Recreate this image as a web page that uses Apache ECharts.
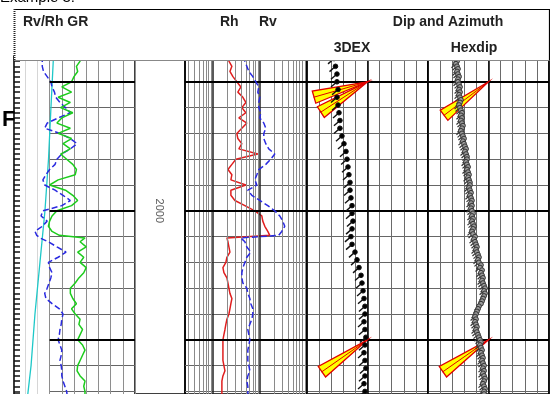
<!DOCTYPE html>
<html>
<head>
<meta charset="utf-8">
<script src="https://cdn.jsdelivr.net/npm/echarts@6/dist/echarts.min.js"></script>
<style>
html, body { margin: 0; padding: 0; background: #fff; }
#main { width: 550px; height: 394px; }
</style>
</head>
<body>
<div id="main"></div>
<script>
// depth samples (ft) shared by the log curves
var depth = [1940,1942,1944,1946,1948,1950,1952,1954,1956,1958,1960,1962,1964,1966,1968,1970,1972,1974,1976,1978,
    1980,1982,1984,1986,1988,1990,1992,1994,1996,1998,2000,2002,2004,2006,2008,2009.5,2010.5,
    2012,2014,2016,2018,2020,2022,2024,2026,2028,2030,2032,2034,2036,2038,2040,2042,2044,2046,2048,2050,
    2052,2054,2056,2058,2060,2062,2064,2066,2068,2070,2072];

// track 1 (0-10 scale)
var gr = [5.5,5.5,5.2,5.3,5.0,4.8,4.0,4.8,3.7,4.7,3.9,4.9,4.0,3.6,4.7,3.7,4.8,4.1,4.7,3.9,
    4.4,4.9,5.2,5.1,3.7,3.0,4.3,4.9,5.3,4.8,3.6,3.2,3.0,2.9,3.2,3.8,5.9,
    5.5,6.0,5.3,5.8,5.5,6.0,5.8,5.4,5.1,4.7,4.7,4.9,5.2,4.8,5.1,5.5,5.4,5.7,5.5,5.3,
    5.7,5.9,5.7,5.5,5.3,5.25,5.5,5.9,5.8,5.9,5.9];
var rvrh = [2.4,2.4,2.4,2.5,2.8,3.1,3.2,3.4,3.5,3.85,4.3,4.7,3.7,2.8,2.6,3.85,4.7,5.25,4.7,4.0,
    3.6,3.45,3.0,2.7,2.45,2.6,3.45,4.1,4.7,4.0,2.45,2.3,2.8,2.4,1.8,1.95,2.2,
    2.9,3.6,4.35,3.7,2.9,3.0,3.2,3.1,2.95,2.8,2.6,2.7,3.2,3.8,4.1,4.0,3.95,3.85,3.8,3.7,
    3.85,4.0,3.95,3.85,3.95,4.0,4.0,4.1,4.25,4.4,4.45];
var cyanDepth = [1940,1960,1980,2000,2020,2040,2060,2072];
var cyanVal = [3.32,3.11,2.91,2.62,2.21,1.80,1.48,1.19];

// track 2 (ohm.m, log)
var rh = [2.06,2.16,2.5,2.27,2.63,3.19,3.89,3.35,4.29,4.96,4.08,4.96,3.52,5.21,4.08,3.19,3.35,4.08,3.52,8.93,
    3.04,2.5,2.06,2.5,2.38,4.96,2.38,2.38,2.9,4.73,7.71,10.87,11.41,12.59,14.58,16.08,1.96,
    2.06,2.16,2.27,1.96,1.86,1.61,1.69,1.96,2.06,2.16,2.27,2.5,2.38,2.27,2.16,1.96,1.86,1.78,1.69,1.61,
    1.61,1.61,1.61,1.61,1.69,1.78,1.61,1.53,1.53,1.53,1.53];
var rv = [4.50,4.73,5.21,5.75,6.99,8.10,9.38,8.93,9.85,9.38,9.38,10.35,9.85,11.98,13.22,11.98,11.98,13.22,15.31,20.54,
    16.88,13.22,9.38,8.51,7.71,8.51,5.47,6.66,9.85,14.58,20.54,26.23,30.39,33.51,28.93,24.98,3.89,
    4.73,5.21,6.34,5.21,4.73,4.29,4.08,4.08,4.29,5.21,5.47,6.04,6.34,6.99,6.99,6.66,6.04,5.47,5.75,6.04,
    5.75,5.47,5.47,5.47,5.75,6.04,5.47,5.21,5.47,5.47,5.47];
var logMinor = [0.3,0.4,0.5,0.6,0.7,0.8,0.9,2,3,4,5,6,7,8,9,20,30,40,50,60,70,80,90];
var logMajor = [1,10];

// dip tracks (deg)
var dexDepth = [1941,1944,1947,1950,1953,1956,1959,1962,1965,1968,1971,1974,1977,1980,1983,1986,1989,1992,1995,1998,
    2001,2004,2007,2010,2013,2016,2019,2022,2025,2028,2031,2034,2037,2040,2043,2046,2049,2052,2055,2058,
    2061,2064,2067,2070];
var dexDip = [20.1,21.2,22.3,22.3,23.1,22.3,23.1,23.8,24.5,24.5,26.0,27.5,29.0,29.8,30.5,31.2,32.0,32.0,32.7,33.5,
    33.5,34.2,33.5,32.7,33.5,35.7,37.2,38.7,40.2,40.9,41.7,42.4,43.1,43.1,42.4,43.1,43.8,43.1,42.4,43.1,
    43.8,43.1,42.4,43.1];
var hexDepth = [1940,1941,1942,1943,1944,1945,1946,1947,1948,1949,1950,1951,1952,1953,1954,1955,1956,1957,1958,1959,
    1960,1961,1962,1963,1964,1965,1966,1967,1968,1969,1970,1971,1972,1973,1974,1975,1976,1977,1978,1979,
    1980,1981,1982,1983,1984,1985,1986,1987,1988,1989,1990,1991,1992,1993,1994,1995,1996,1997,1998,1999,
    2000,2001,2002,2003,2004,2005,2006,2007,2008,2009,2010,2011,2012,2013,2014,2015,2016,2017,2018,2019,
    2020,2021,2022,2023,2024,2025,2026,2027,2028,2029,2030,2031,2032,2033,2034,2035,2036,2037,2038,2039,
    2040,2041,2042,2043,2044,2045,2046,2047,2048,2049,2050,2051,2052,2053,2054,2055,2056,2057,2058,2059,
    2060,2061,2062,2063,2064,2065,2066,2067,2068,2069,2070,2071];
var hexDip = [21.6,22.3,21.6,20.8,21.6,22.3,21.6,22.3,23.1,22.3,
    22.3,23.1,23.8,23.1,23.8,23.1,23.8,24.5,23.8,23.1,
    23.8,24.5,25.3,24.5,25.3,24.5,25.3,26.0,25.3,24.5,
    25.3,26.0,26.8,26.0,26.8,27.5,28.3,27.5,28.3,29.0,
    29.0,28.3,29.0,29.8,29.0,29.8,30.5,29.8,30.5,31.2,
    31.2,30.5,31.2,32.0,31.2,32.0,32.7,32.0,32.7,32.0,
    32.7,33.5,32.7,33.5,32.7,33.5,34.2,33.5,32.7,33.5,
    35.0,34.2,35.0,35.7,36.4,35.7,36.4,37.2,37.9,37.2,
    37.9,39.4,38.7,40.2,39.4,40.2,40.9,40.2,40.9,41.7,
    42.4,41.7,42.4,41.7,40.9,40.2,39.4,37.9,37.2,36.4,
    35.7,35.0,35.7,35.0,35.7,36.4,35.7,36.4,37.2,37.9,
    38.7,39.4,38.7,39.4,40.2,39.4,40.2,40.9,40.2,40.9,
    41.7,40.9,41.7,40.9,41.7,42.4,41.7,40.9,41.7,42.4,
    41.7,41.7];
// dip, depth, azimuth angle of the fan
var dexFans = [[45, 1950, 16], [45, 1950, 33], [45, 2050, 35]];
var hexFans = [[45, 1950, 37], [45, 2050, 35]];
var thickDepths = [1950, 2000, 2050];
var depthLabels = [2000];

var chart = echarts.init(document.getElementById('main'), null, { renderer: 'canvas' });

var TOP = 56, H = 338, DMIN = 1940, DMAX = 2071;
var FONT = '"Liberation Sans", Arial, sans-serif';

function pairs(xs, ys) {
    return xs.map(function (v, i) { return [v, ys[i]]; });
}

function depthAxis(gridIndex, opts) {
    var ax = {
        type: 'value', gridIndex: gridIndex, inverse: true, min: DMIN, max: DMAX, interval: 10,
        axisLine: { show: false }, axisTick: { show: false }, axisLabel: { show: false },
        splitLine: { show: false }
    };
    return Object.assign(ax, opts || {});
}

function valAxis(gridIndex, opts) {
    var ax = {
        type: 'value', gridIndex: gridIndex,
        axisLine: { show: false }, axisTick: { show: false }, axisLabel: { show: false },
        splitLine: { show: false }
    };
    return Object.assign(ax, opts || {});
}

function thickLines(xi, yi) {
    return {
        type: 'line', xAxisIndex: xi, yAxisIndex: yi, data: [], silent: true,
        markLine: {
            silent: true, symbol: ['none', 'none'], label: { show: false }, animation: false,
            lineStyle: { color: '#000', width: 2, type: 'solid' },
            data: thickDepths.map(function (d) { return { yAxis: d }; })
        }
    };
}

function tadpole(fill, stroke, r, tail, tailWidth) {
    return function (params, api) {
        var p = api.coord([api.value(0), api.value(1)]);
        return {
            type: 'group',
            children: [
                { type: 'line', shape: { x1: p[0], y1: p[1], x2: p[0] - tail * 0.75, y2: p[1] + tail * 0.66 },
                  style: { stroke: stroke, lineWidth: tailWidth } },
                { type: 'circle', shape: { cx: p[0], cy: p[1], r: r },
                  style: { fill: fill, stroke: stroke, lineWidth: 1 } }
            ]
        };
    };
}

function renderFan(params, api) {
    var p = api.coord([api.value(0), api.value(1)]);
    var a = api.value(2) * Math.PI / 180, h = 6.5 * Math.PI / 180, L = 56;
    function pt(t) { return [p[0] - Math.cos(t) * L, p[1] + Math.sin(t) * L]; }
    var c = pt(a);
    return {
        type: 'group',
        children: [
            { type: 'polygon', shape: { points: [p, pt(a - h), pt(a + h)] },
              style: { fill: '#ffff00', stroke: '#e00000', lineWidth: 1.3 } },
            { type: 'line', shape: { x1: p[0], y1: p[1], x2: c[0], y2: c[1] },
              style: { stroke: '#e00000', lineWidth: 1 } }
        ]
    };
}

var option = {
    animation: false,
    backgroundColor: '#fff',
    grid: [
        { left: 14, top: TOP, width: 6, height: H },                 // 0 hatch strip
        { left: 13, top: TOP, width: 122, height: H },               // 1 track 1 curves
        { left: 13, top: TOP, width: 48.8, height: H },              // 2 track 1 light lines
        { left: 49.6, top: TOP, width: 85.4, height: H },            // 3 track 1 grid
        { left: 135, top: TOP, width: 50, height: H, show: true, borderColor: '#000', borderWidth: 1.5 }, // 4 depth
        { left: 185, top: TOP, width: 122, height: H, show: true, borderColor: '#000', borderWidth: 1.5 }, // 5 Rh Rv
        { left: 307, top: TOP, width: 121, height: H, show: true, borderColor: '#000', borderWidth: 1.5 }, // 6 3DEX
        { left: 428, top: TOP, width: 121, height: H, show: true, borderColor: '#000', borderWidth: 1.5 }  // 7 Hexdip
    ],
    xAxis: [
        valAxis(0, { show: false, min: 0, max: 1 }),
        valAxis(1, { show: false, min: 0, max: 10 }),
        valAxis(2, { min: 0, max: 4, interval: 1, splitLine: { show: true, lineStyle: { color: '#d6d6d6', width: 1 } } }),
        valAxis(3, { min: 3, max: 10, interval: 1, splitLine: { show: true, lineStyle: { color: '#8e8e8e', width: 1 } } }),
        valAxis(4, { show: false, min: 0, max: 1 }),
        valAxis(5, { type: 'log', logBase: 10, show: false, min: 0.25, max: 100 }),
        valAxis(6, { min: 0, max: 90, interval: 9, splitLine: { show: true, lineStyle: { color: '#6a6a6a', width: 1 } } }),
        valAxis(6, { position: 'top', min: 0, max: 90, interval: 45, splitLine: { show: true, lineStyle: { color: '#000', width: 1.5 } } }),
        valAxis(7, { min: 0, max: 90, interval: 9, splitLine: { show: true, lineStyle: { color: '#6a6a6a', width: 1 } } }),
        valAxis(7, { position: 'top', min: 0, max: 90, interval: 45, splitLine: { show: true, lineStyle: { color: '#000', width: 1.5 } } })
    ],
    yAxis: [
        depthAxis(0, {
            interval: 2, position: 'left',
            axisLine: { show: true, lineStyle: { color: '#000', width: 1.5 } },
            axisTick: { show: true, inside: true, length: 6, lineStyle: { color: '#111', width: 1.5 } }
        }),
        depthAxis(1),
        depthAxis(2),
        depthAxis(3, { splitLine: { show: true, lineStyle: { color: '#666', width: 1 } } }),
        depthAxis(4),
        depthAxis(5, { splitLine: { show: true, lineStyle: { color: '#666', width: 1 } } }),
        depthAxis(6, { splitLine: { show: true, lineStyle: { color: '#666', width: 1 } } }),
        depthAxis(7, { splitLine: { show: true, lineStyle: { color: '#666', width: 1 } } })
    ],
    series: [
        thickLines(3, 3),
        {
            name: 'Rv/Rh trend', type: 'line', xAxisIndex: 1, yAxisIndex: 1, symbol: 'none',
            data: pairs(cyanVal, cyanDepth), lineStyle: { color: '#1ec8c8', width: 1.3 }, z: 3
        },
        {
            name: 'Rv/Rh', type: 'line', xAxisIndex: 1, yAxisIndex: 1, symbol: 'none',
            data: pairs(rvrh, depth), lineStyle: { color: '#2a2ae0', width: 1.5, type: [6, 3] }, z: 3
        },
        {
            name: 'GR', type: 'line', xAxisIndex: 1, yAxisIndex: 1, symbol: 'none',
            data: pairs(gr, depth), lineStyle: { color: '#1ccc1c', width: 1.5 }, z: 4
        },
        {
            name: 'depth', type: 'scatter', xAxisIndex: 4, yAxisIndex: 4, symbolSize: 1,
            itemStyle: { color: 'rgba(0,0,0,0)' },
            data: depthLabels.map(function (d) { return [0.48, d]; }),
            label: {
                show: true, position: 'inside', rotate: -90, color: '#333', fontSize: 11, fontFamily: FONT,
                formatter: function (p) { return String(p.value[1]); }
            }
        },
        {
            type: 'line', xAxisIndex: 5, yAxisIndex: 5, data: [], silent: true,
            markLine: {
                silent: true, symbol: ['none', 'none'], label: { show: false }, animation: false,
                data: logMinor.map(function (v) { return { xAxis: v, lineStyle: { color: '#8a8a8a', width: 1, type: 'solid' } }; })
                    .concat(logMajor.map(function (v) { return { xAxis: v, lineStyle: { color: '#222', width: 1.5, type: 'solid' } }; }))
                    .concat(thickDepths.map(function (d) { return { yAxis: d, lineStyle: { color: '#000', width: 2, type: 'solid' } }; }))
            }
        },
        {
            name: 'Rh', type: 'line', xAxisIndex: 5, yAxisIndex: 5, symbol: 'none',
            data: pairs(rh, depth), lineStyle: { color: '#e01e1e', width: 1.5 }, z: 4
        },
        {
            name: 'Rv', type: 'line', xAxisIndex: 5, yAxisIndex: 5, symbol: 'none',
            data: pairs(rv, depth), lineStyle: { color: '#2a2ae0', width: 1.5, type: [6, 3] }, z: 5
        },
        thickLines(6, 6),
        {
            name: '3DEX fan', type: 'custom', xAxisIndex: 6, yAxisIndex: 6, renderItem: renderFan,
            data: dexFans, z: 5
        },
        {
            name: '3DEX', type: 'custom', xAxisIndex: 6, yAxisIndex: 6, renderItem: tadpole('#000', '#111', 2.3, 8, 1.4),
            data: pairs(dexDip, dexDepth), z: 6
        },
        thickLines(8, 7),
        {
            name: 'Hexdip fan', type: 'custom', xAxisIndex: 8, yAxisIndex: 7, renderItem: renderFan,
            data: hexFans, z: 5
        },
        {
            name: 'Hexdip', type: 'custom', xAxisIndex: 8, yAxisIndex: 7, renderItem: tadpole('#9a9a9a', '#333', 2.4, 6, 1.2),
            data: pairs(hexDip, hexDepth), z: 6
        }
    ],
    graphic: [
        { type: 'text', x: 0, y: -10, z: 90, style: { text: 'Example 3:', font: '15px ' + FONT, fill: '#000' } },
        { type: 'text', x: 2, y: 120, z: 90, style: { text: 'F', font: 'bold 22px ' + FONT, fill: '#000', verticalAlign: 'middle' } },
        { type: 'rect', z: 100, shape: { x: 14, y: 9, width: 535.5, height: 51 }, style: { fill: '#fff' } },
        { type: 'line', z: 101, shape: { x1: 14, y1: 9.5, x2: 549.5, y2: 9.5 }, style: { stroke: '#000', lineWidth: 1.2 } },
        { type: 'line', z: 101, shape: { x1: 549.5, y1: 9, x2: 549.5, y2: 60 }, style: { stroke: '#000', lineWidth: 1.2 } },
        { type: 'line', z: 101, shape: { x1: 14, y1: 60.5, x2: 549.5, y2: 60.5 }, style: { stroke: '#888', lineWidth: 1 } },
        { type: 'line', z: 101, shape: { x1: 14.5, y1: 9, x2: 14.5, y2: 60 }, style: { stroke: '#222', lineWidth: 2, lineDash: [1, 1] } },
        { type: 'text', z: 102, x: 23, y: 22.5, style: { text: 'Rv/Rh GR', font: 'bold 14px ' + FONT, fill: '#222', verticalAlign: 'middle' } },
        { type: 'text', z: 102, x: 220, y: 22.5, style: { text: 'Rh', font: 'bold 14px ' + FONT, fill: '#222', verticalAlign: 'middle' } },
        { type: 'text', z: 102, x: 259, y: 22.5, style: { text: 'Rv', font: 'bold 14px ' + FONT, fill: '#222', verticalAlign: 'middle' } },
        { type: 'text', z: 102, x: 448, y: 22.5, style: { text: 'Dip and Azimuth', font: 'bold 14px ' + FONT, fill: '#222', align: 'center', verticalAlign: 'middle' } },
        { type: 'text', z: 102, x: 352, y: 48, style: { text: '3DEX', font: 'bold 14px ' + FONT, fill: '#222', align: 'center', verticalAlign: 'middle' } },
        { type: 'text', z: 102, x: 474, y: 48, style: { text: 'Hexdip', font: 'bold 14px ' + FONT, fill: '#222', align: 'center', verticalAlign: 'middle' } }
    ]
};

chart.setOption(option);
</script>
</body>
</html>
